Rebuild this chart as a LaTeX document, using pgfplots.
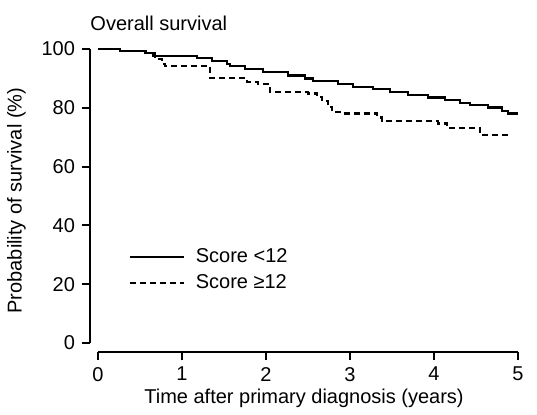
\documentclass[border=0pt]{standalone}
\usepackage{fontspec}
\setmainfont{Liberation Sans}
\usepackage{pgfplots}
\usepackage{pgfplotstable}
\pgfplotsset{compat=1.18}
\pgfplotstableread{
t s
0 100
0.26 99.3
0.57 98.7
0.65 97.7
1.18 96.9
1.36 95.9
1.54 94.9
1.57 94.2
1.75 93.3
1.96 92.2
2.26 91.0
2.46 90.0
2.56 89.2
2.86 88.2
3.04 87.1
3.27 86.3
3.48 85.4
3.69 84.5
3.93 83.5
4.13 82.7
4.31 81.7
4.43 80.9
4.64 80.1
4.81 79.0
4.88 78.1
5.00 78.1
}\lowscore
\pgfplotstableread{
t s
0 100
0.26 99.3
0.56 98.7
0.68 96.5
0.76 94.9
0.80 94.2
1.33 90.1
1.77 88.9
1.90 88.0
2.05 85.5
2.50 84.9
2.61 83.8
2.67 82.3
2.74 80.3
2.79 78.7
2.90 78.1
3.32 76.7
3.38 75.5
4.05 74.7
4.15 73.1
4.55 70.7
4.90 70.7
}\highscore
\begin{document}
\begin{tikzpicture}
\begin{axis}[
  scale only axis,
  width=214pt, height=151.5pt,
  xmin=-0.095, xmax=5, ymin=-3.1, ymax=100,
  axis x line*=bottom, axis y line*=left,
  axis line style={draw=none},
  xtick={0,1,2,3,4,5}, ytick={0,20,40,60,80,100},
  tick align=outside, major tick length=4pt,
  tick style={black, line width=0.9pt},
  font=\fontsize{10}{12}\selectfont,
  ticklabel style={font=\fontsize{10}{12}\selectfont},
  /pgf/number format/assume math mode=true,
  xlabel={Time after primary diagnosis (years)},
  xlabel style={yshift=3pt},
  ylabel={Probability of survival (\%)},
  ylabel style={yshift=1pt},
  clip=false,
  legend style={draw=none, fill=none, at={(axis cs:0.36,33.5)}, anchor=north west,
    inner sep=0pt, row sep=0.5pt, font=\fontsize{10}{12}\selectfont},
  legend cell align=left,
  legend image code/.code={\draw[#1] (0pt,0pt) -- (27pt,0pt);},
]
\path (axis cs:-1.167,116.7) rectangle (axis cs:5.226,-24.15);
\draw[line width=0.9pt] (axis cs:-0.095,0) -- (axis cs:-0.095,100);
\draw[line width=0.9pt] (axis cs:0,-3.1) -- (axis cs:5,-3.1);
\node[anchor=west, inner sep=0pt, font=\fontsize{10}{12}\selectfont] at (axis cs:-0.095,108.8) {Overall survival};
\addplot[const plot, black, line width=1.1pt] table[x=t, y=s] {\lowscore};
\addlegendentry{\hspace{3.5pt}Score <12}
\addplot[const plot, black, line width=1.1pt, dash pattern=on 3pt off 2pt] table[x=t, y=s] {\highscore};
\addlegendentry{\hspace{3.5pt}Score ≥12}
\end{axis}
\end{tikzpicture}
\end{document}
